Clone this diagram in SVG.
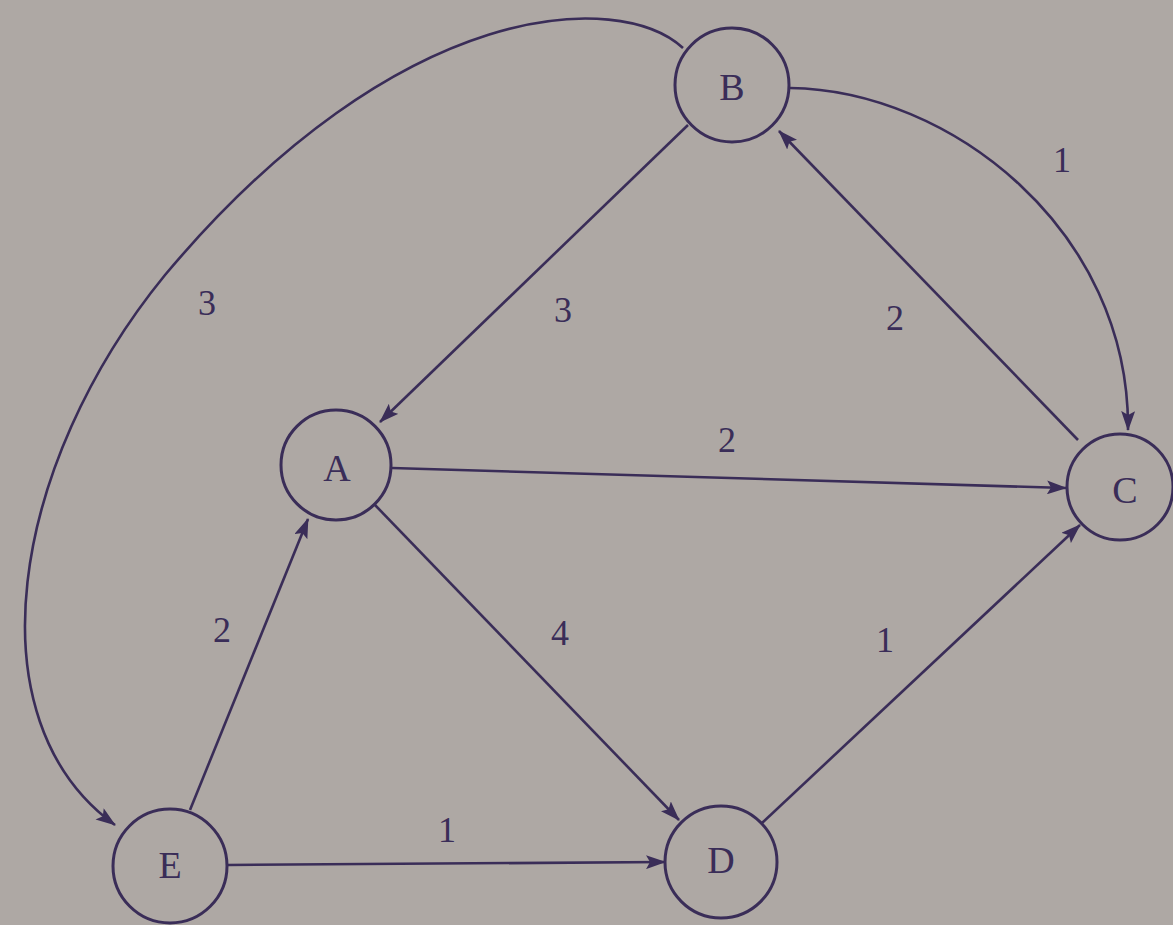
<svg xmlns="http://www.w3.org/2000/svg" width="1173" height="925" viewBox="0 0 1173 925">
<defs>
<marker id="arr" markerUnits="userSpaceOnUse" markerWidth="20" markerHeight="14" viewBox="0 0 20 14" refX="19" refY="7" orient="auto">
<path d="M0,0 L20,7 L0,14 L4,7 Z" fill="#3a2d58"/>
</marker>
<style>
.node circle{fill:none;stroke:#3a2d58;stroke-width:3}
.node text{font-family:"Liberation Serif","DejaVu Serif",serif;font-size:38px;fill:#3a2d58;text-anchor:middle;dominant-baseline:central}
.edge{fill:none;stroke:#3a2d58;stroke-width:2.6;marker-end:url(#arr)}
.lbl{font-family:"Liberation Serif","DejaVu Serif",serif;font-size:36px;fill:#3a2d58;text-anchor:middle;dominant-baseline:central}
</style>
</defs>
<rect width="1173" height="925" fill="#aea8a4"/>
<g id="connectors">
<path class="edge" d="M683,48 C620,-10 400,-5 165,275 C10,465 -30,720 115,825"/>
<path class="edge" d="M790,88 C950,90 1130,230 1128,430"/>
<path class="edge" d="M1078,440 L779,131"/>
<path class="edge" d="M688,125 L380,422"/>
<path class="edge" d="M392,468 L1066,488"/>
<path class="edge" d="M375,505 L679,820"/>
<path class="edge" d="M762,823 L1080,525"/>
<path class="edge" d="M190,810 L308,519"/>
<path class="edge" d="M227,865 L665,862"/>
<text class="lbl" x="207" y="303">3</text>
<text class="lbl" x="1062" y="160">1</text>
<text class="lbl" x="895" y="318">2</text>
<text class="lbl" x="563" y="310">3</text>
<text class="lbl" x="727" y="440">2</text>
<text class="lbl" x="560" y="633">4</text>
<text class="lbl" x="885" y="640">1</text>
<text class="lbl" x="222" y="630">2</text>
<text class="lbl" x="447" y="830">1</text>
</g>
<g id="node-B" class="node"><circle cx="732" cy="85" r="57"/><text x="732" y="87">B</text></g>
<g id="node-A" class="node"><circle cx="336" cy="465" r="55"/><text x="337" y="468">A</text></g>
<g id="node-C" class="node"><circle cx="1120" cy="487" r="53"/><text x="1125" y="490">C</text></g>
<g id="node-D" class="node"><circle cx="721" cy="862" r="56"/><text x="721" y="860">D</text></g>
<g id="node-E" class="node"><circle cx="170" cy="866" r="57"/><text x="170" y="865">E</text></g>
</svg>
